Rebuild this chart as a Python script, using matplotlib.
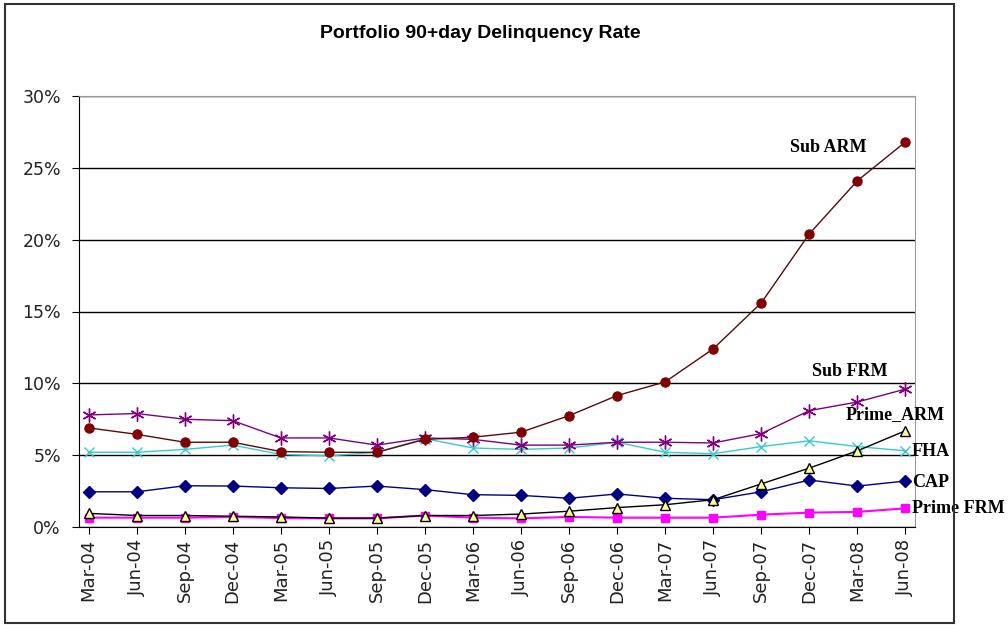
import matplotlib.pyplot as plt
from matplotlib.patches import Rectangle
import numpy as np

quarters = ['Mar-04', 'Jun-04', 'Sep-04', 'Dec-04', 'Mar-05', 'Jun-05', 'Sep-05', 'Dec-05', 'Mar-06',
            'Jun-06', 'Sep-06', 'Dec-06', 'Mar-07', 'Jun-07', 'Sep-07', 'Dec-07', 'Mar-08', 'Jun-08']

# delinquency rates in percent
sub_arm = [6.9, 6.45, 5.9, 5.9, 5.25, 5.2, 5.2, 6.1, 6.25, 6.6, 7.75, 9.15, 10.1, 12.4, 15.6, 20.4, 24.1, 26.8]
sub_frm = [7.8, 7.9, 7.5, 7.4, 6.2, 6.2, 5.7, 6.2, 6.1, 5.7, 5.7, 5.9, 5.9, 5.85, 6.5, 8.1, 8.7, 9.6]
fha = [5.2, 5.2, 5.4, 5.7, 5.05, 4.95, 5.2, 6.15, 5.5, 5.4, 5.5, 5.9, 5.2, 5.1, 5.6, 6.0, 5.6, 5.3]
cap = [2.45, 2.45, 2.87, 2.85, 2.73, 2.68, 2.85, 2.6, 2.25, 2.2, 2.0, 2.3, 2.0, 1.9, 2.45, 3.27, 2.85, 3.2]
prime_arm = [0.95, 0.8, 0.8, 0.75, 0.7, 0.62, 0.62, 0.8, 0.8, 0.9, 1.1, 1.35, 1.55, 1.9, 3.0, 4.1, 5.3, 6.7]
prime_frm = [0.65, 0.65, 0.65, 0.7, 0.62, 0.6, 0.6, 0.8, 0.65, 0.6, 0.7, 0.65, 0.65, 0.65, 0.86, 1.0, 1.05, 1.3]

x = np.arange(len(quarters))

fig = plt.figure(figsize=(10.08, 6.25), dpi=100)
ax = fig.add_axes([79/1008, 98/625, (915-79)/1008, (527-96)/625])

# outer chart border
fig.patches.append(Rectangle((5/1008, 2/625), (954-5)/1008, (621-2)/625, transform=fig.transFigure,
                             fill=False, edgecolor='#333333', linewidth=1.5))

ax.plot(x, sub_arm, color='#5a0a0a', lw=1, marker='o', ms=6.5, mfc='#800000', mec='#800000', zorder=5)
ax.plot(x, sub_frm, color='#800080', lw=1, marker=(6, 2, 0), ms=10, mec='#800080', zorder=4)
ax.plot(x, fha, color='#33CCCC', lw=1, marker='x', ms=7, mec='#33CCCC', zorder=3)
ax.plot(x, cap, color='#000080', lw=1, marker='D', ms=6, mfc='#000080', mec='#000080', zorder=4)
ax.plot(x, prime_frm, color='#FF00FF', lw=1.5, marker='s', ms=6, mfc='#FF00FF', mec='#FF00FF', zorder=3)
ax.plot(x, prime_arm, color='black', lw=1, marker='^', ms=7, mfc='#FFFF99', mec='black', zorder=5)

ax.set_xlim(-0.2, 17.2)
ax.set_ylim(0, 30)
ax.set_yticks(np.arange(0, 31, 5))
ax.set_yticklabels([f'{v}%' for v in range(0, 31, 5)], fontsize=12.5, color='#222222')
ax.set_xticks(x)
ax.set_xticklabels(quarters, rotation=90, fontsize=13, color='#222222')
ax.grid(axis='y', color='black', lw=1)
ax.set_axisbelow(True)
ax.tick_params(axis='both', direction='out', length=5, color='black')
ax.tick_params(axis='y', pad=8)

for s in ['top', 'right']:
    ax.spines[s].set_color('#999999')
for s in ['left', 'bottom']:
    ax.spines[s].set_color('black')

fig.text(480/1008, 1 - 33/625, 'Portfolio 90+day Delinquency Rate', ha='center', va='center',
         fontsize=14, fontweight='bold', family='Liberation Sans')

lab = dict(fontsize=13, fontweight='bold', family='Liberation Serif', va='center', clip_on=False)
ax.text(15.4, 26.4, 'Sub ARM', ha='center', **lab)
ax.text(15.85, 10.8, 'Sub FRM', ha='center', **lab)
ax.text(15.75, 7.8, 'Prime_ARM', ha='left', **lab)
ax.text(17.14, 5.25, 'FHA', ha='left', **lab)
ax.text(17.14, 3.1, 'CAP', ha='left', **lab)
ax.text(17.14, 1.26, 'Prime FRM', ha='left', **lab)

fig.savefig('out.png', dpi=100)
